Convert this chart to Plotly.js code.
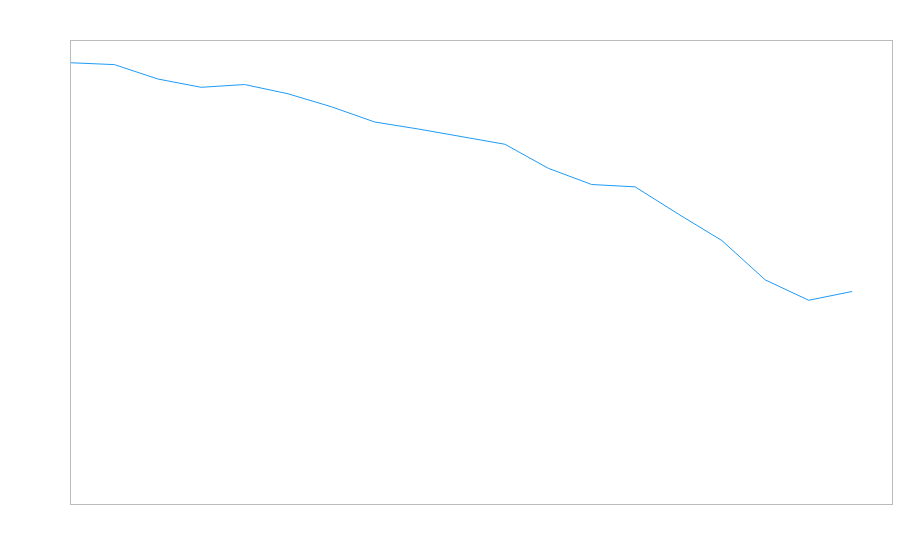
<!DOCTYPE html>
<html><head><meta charset="utf-8">
<script src="https://cdn.plot.ly/plotly-3.0.1.min.js"></script>
<style>html,body{margin:0;padding:0;background:#fff}</style>
</head><body><div id="chart" style="width:900px;height:560px"></div>
<script>
const xIndex = [0,1,2,3,4,5,6,7,8,9,10,11,12,13,14,15,16,17,18];
const seriesValues = [95.3,94.9,91.8,90.0,90.6,88.6,85.8,82.5,81.0,79.4,77.7,72.5,69.0,68.5,62.6,56.9,48.4,44.0,45.9];

Plotly.newPlot('chart', [{
  x: xIndex, y: seriesValues, type: 'scatter', mode: 'lines',
  line: {color: '#1f9bf5', width: 1}, hoverinfo: 'none'
}], {
  width: 900, height: 560,
  margin: {l: 71, r: 8, t: 41, b: 56},
  paper_bgcolor: '#fff', plot_bgcolor: '#fff',
  showlegend: false,
  xaxis: {range: [0, 18.92], showgrid: false, zeroline: false, showticklabels: false, ticks: '',
          showline: true, mirror: true, linecolor: '#bbbbbb', linewidth: 1},
  yaxis: {range: [0, 100], showgrid: false, zeroline: false, showticklabels: false, ticks: '',
          showline: true, mirror: true, linecolor: '#bbbbbb', linewidth: 1}
}, {displayModeBar: false, staticPlot: true});
</script></body></html>
